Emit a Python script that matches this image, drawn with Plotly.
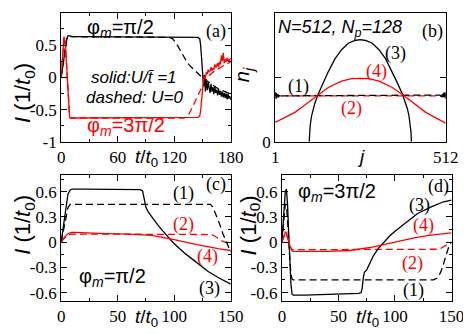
import plotly.graph_objects as go

W, H = 471, 334

# ---------------- Panel (a): I vs t, t in [0,180] ----------------
a_t_black_solid = [0, 2, 4, 6, 7.5, 9, 12, 20, 40, 80, 120, 140, 145, 147, 148, 149, 150, 151, 152, 153,
                   154, 155, 156, 157, 158, 159, 160, 161, 162, 163, 164, 165, 166, 167, 168, 169, 170,
                   171, 172, 173, 174, 175, 176, 177, 178, 179, 180]
a_I_black_solid = [0, 0.2, 0.43, 0.6, 0.65, 0.64, 0.63, 0.63, 0.63, 0.63, 0.63, 0.63, 0.62, 0.6, 0.5, 0.3, 0.05, -0.14, 0.04, -0.22,
                   -0.03, -0.2, -0.08, -0.16, -0.24, -0.1, -0.22, -0.15, -0.26, -0.14, -0.24, -0.19, -0.28, -0.18, -0.27, -0.21, -0.3,
                   -0.22, -0.31, -0.24, -0.32, -0.25, -0.34, -0.26, -0.33, -0.29, -0.35]
a_t_black_dash = [0, 2, 4, 6, 8, 10, 20, 60, 100, 115, 118, 121, 124, 127, 130, 133, 136, 140, 144, 148, 152, 157, 162, 167, 172, 180]
a_I_black_dash = [0, 0.2, 0.43, 0.6, 0.64, 0.63, 0.63, 0.63, 0.63, 0.62, 0.6, 0.55, 0.48, 0.4, 0.32, 0.25, 0.19, 0.13, 0.07, 0.02, -0.03, -0.08, -0.13, -0.18, -0.21, -0.26]
a_t_red_solid = [0, 1.5, 3, 4.5, 6, 7.5, 9, 10, 20, 60, 100, 140, 145, 147, 148, 149, 150, 151, 152, 153, 154, 155,
                 156, 157, 158, 159, 160, 161, 162, 163, 164, 165, 166, 167, 168, 169, 170, 171, 172, 173, 174, 175,
                 176, 177, 178, 179, 180]
a_I_red_solid = [0, 0.35, 0.63, 0.5, 0.1, -0.4, -0.62, -0.63, -0.63, -0.63, -0.63, -0.63, -0.62, -0.6, -0.52, -0.35, -0.15, -0.05, 0.02, -0.02, 0.08, 0.05,
                 0.12, 0.08, 0.1, 0.16, 0.1, 0.14, 0.12, 0.2, 0.15, 0.18, 0.22, 0.16, 0.24, 0.2, 0.34, 0.25, 0.38, 0.22, 0.28, 0.24,
                 0.3, 0.25, 0.28, 0.27, 0.3]
a_t_red_dash = [0, 1.5, 3, 4.5, 6, 7.5, 9, 10, 20, 60, 100, 130, 133, 136, 139, 142, 145, 148, 151, 154, 158, 162, 167, 172, 180]
a_I_red_dash = [0, 0.35, 0.63, 0.5, 0.1, -0.4, -0.62, -0.63, -0.63, -0.63, -0.63, -0.63, -0.61, -0.56, -0.47, -0.38, -0.28, -0.18, -0.1, -0.03, 0.04, 0.09, 0.14, 0.18, 0.24]

# ---------------- Panel (b): n_j vs j ----------------
b_j_3 = [103, 104, 106, 110, 115, 120, 130, 145, 160, 180, 200, 220, 240, 256, 272, 292, 312, 332, 352, 367, 382, 392, 397, 402, 406, 408, 409]
b_n_3 = [0, 0.05, 0.09, 0.14, 0.18, 0.21, 0.26, 0.32, 0.38, 0.45, 0.5, 0.535, 0.55, 0.555, 0.55, 0.535, 0.5, 0.45, 0.38, 0.32, 0.26, 0.21, 0.18, 0.14, 0.09, 0.05, 0]
b_j_4 = [1, 30, 60, 90, 125, 160, 200, 230, 256, 282, 312, 352, 387, 422, 452, 482, 512]
b_n_4 = [0.105, 0.13, 0.16, 0.2, 0.25, 0.295, 0.33, 0.343, 0.345, 0.343, 0.33, 0.295, 0.25, 0.2, 0.16, 0.13, 0.102]
b_j_1 = [1, 2, 3, 4, 5, 6, 7, 8, 9, 10, 11, 12, 14, 16, 18, 20, 60, 120, 256, 390, 450, 493, 495, 497, 499, 500, 502, 503, 504, 505, 506, 507, 508, 509, 510, 511, 512]
b_n_1 = [0.27, 0.235, 0.268, 0.232, 0.265, 0.237, 0.262, 0.24, 0.26, 0.242, 0.257, 0.245, 0.255, 0.246, 0.253, 0.25, 0.25, 0.25, 0.25, 0.25, 0.25, 0.25, 0.254, 0.246, 0.257, 0.242, 0.26, 0.24, 0.263, 0.237, 0.266, 0.234, 0.268, 0.232, 0.27, 0.235, 0.262]
b_j_2 = [1, 512]
b_n_2 = [0.25, 0.25]

# ---------------- Panel (c): phi_m = pi/2 ----------------
c_t_3 = [0, 2, 4, 6, 8, 10, 20, 40, 60, 70, 72, 73, 74, 75, 77, 80, 85, 90, 95, 100, 110, 120, 130, 140, 150]
c_I_3 = [0, 0.2, 0.42, 0.57, 0.62, 0.63, 0.63, 0.63, 0.63, 0.625, 0.61, 0.55, 0.46, 0.41, 0.36, 0.3, 0.21, 0.13, 0.05, -0.02, -0.14, -0.25, -0.35, -0.43, -0.5]
c_t_1 = [0, 2, 4, 6, 8, 10, 40, 80, 120, 132, 134, 137, 140, 143, 146, 150]
c_I_1 = [0, 0.15, 0.3, 0.41, 0.45, 0.45, 0.45, 0.45, 0.45, 0.45, 0.42, 0.33, 0.22, 0.1, 0.0, -0.12]
c_t_2 = [0, 3, 6, 9, 40, 80, 120, 130, 133, 136, 139, 142, 145, 150]
c_I_2 = [0, 0.05, 0.085, 0.095, 0.095, 0.095, 0.095, 0.095, 0.09, 0.07, 0.04, 0.015, 0.0, -0.005]
c_t_4 = [0, 3, 6, 9, 12, 20, 40, 60, 80, 100, 120, 140, 150]
c_I_4 = [0, 0.06, 0.1, 0.115, 0.115, 0.11, 0.1, 0.095, 0.08, 0.03, -0.03, -0.08, -0.1]

# ---------------- Panel (d): phi_m = 3pi/2 ----------------
d_t_3 = [0, 1.5, 3, 4, 5, 6, 7, 8, 9, 10, 20, 50, 68, 70, 71, 72, 73, 75, 78, 81, 85, 89, 95, 100, 110, 120, 132, 143, 150]
d_I_3 = [0, 0.35, 0.6, 0.63, 0.45, 0.1, -0.25, -0.5, -0.62, -0.63, -0.63, -0.62, -0.61, -0.6, -0.55, -0.42, -0.36, -0.33, -0.24, -0.16, -0.08, -0.015, 0.07, 0.13, 0.24, 0.34, 0.42, 0.48, 0.5]
d_t_1 = [0, 1.5, 3, 4, 5, 6, 7, 8, 9, 10, 40, 80, 120, 134, 137, 140, 142, 144, 146, 148, 150]
d_I_1 = [0, 0.25, 0.45, 0.45, 0.3, 0.05, -0.2, -0.38, -0.44, -0.45, -0.45, -0.45, -0.45, -0.45, -0.43, -0.37, -0.3, -0.2, -0.12, -0.04, 0.0]
d_t_2 = [0, 2, 3, 4, 5, 6, 7, 8, 9, 10, 40, 80, 120, 135, 138, 141, 144, 147, 150]
d_I_2 = [0, 0.08, 0.1, 0.1, 0.06, 0.0, -0.05, -0.08, -0.09, -0.09, -0.09, -0.09, -0.09, -0.09, -0.085, -0.07, -0.045, -0.02, 0.0]
d_t_4 = [0, 2, 3, 4, 5, 6, 7, 8, 9, 10, 20, 40, 60, 80, 90, 100, 117, 130, 150]
d_I_4 = [0, 0.09, 0.12, 0.11, 0.07, 0.02, -0.04, -0.08, -0.105, -0.11, -0.11, -0.11, -0.1, -0.06, -0.03, 0.0, 0.05, 0.08, 0.11]

# ---------------- tick labels ----------------
a_xticks = [0, 60, 120, 180]
a_yticks = [-1, -0.5, 0, 0.5, 1]
a_yticktext = ["-1", "-0.5", "0", "0.5", "1"]
b_xticks = [1, 512]
b_yticks = [0, 0.35, 0.7]
b_yticktext = ["0", "", "0.7"]
cd_xticks = [0, 50, 100, 150]
cd_yticks = [-0.6, -0.3, 0, 0.3, 0.6]
cd_yticktext = ["-0.6", "-0.3", "0", "0.3", "0.6"]

BLACK = "#000000"
RED = "#ff0000"
DASH = "7px,4px"
LW = 1.3
SERIF = "Liberation Serif"
SANS = "Liberation Sans"

fig = go.Figure()


def add(x, y, color, dash, xa, ya, width=LW):
    fig.add_trace(go.Scatter(x=x, y=y, mode="lines", xaxis=xa, yaxis=ya,
                             line=dict(color=color, width=width, dash=dash),
                             showlegend=False, hoverinfo="skip"))


# panel a
add(a_t_black_dash, a_I_black_dash, BLACK, DASH, "x", "y")
add(a_t_red_dash, a_I_red_dash, RED, DASH, "x", "y")
add(a_t_black_solid, a_I_black_solid, BLACK, "solid", "x", "y")
add(a_t_red_solid, a_I_red_solid, RED, "solid", "x", "y")
# panel b
add(b_j_2, b_n_2, RED, DASH, "x2", "y2")
add(b_j_1, b_n_1, BLACK, DASH, "x2", "y2")
add(b_j_3, b_n_3, BLACK, "solid", "x2", "y2")
add(b_j_4, b_n_4, RED, "solid", "x2", "y2")
# panel c
add(c_t_1, c_I_1, BLACK, DASH, "x3", "y3")
add(c_t_2, c_I_2, RED, DASH, "x3", "y3")
add(c_t_3, c_I_3, BLACK, "solid", "x3", "y3")
add(c_t_4, c_I_4, RED, "solid", "x3", "y3")
# panel d
add(d_t_1, d_I_1, BLACK, DASH, "x4", "y4")
add(d_t_2, d_I_2, RED, DASH, "x4", "y4")
add(d_t_3, d_I_3, BLACK, "solid", "x4", "y4")
add(d_t_4, d_I_4, RED, "solid", "x4", "y4")


def px(x0, x1):
    return [x0 / W, x1 / W]


def py(top, bottom):
    return [1 - bottom / H, 1 - top / H]


tickfont = dict(family=SERIF, size=17, color="black")


def axis(domain, rng, tickvals, ticktext, minor_dtick, anchor):
    d = dict(domain=domain, range=rng, tickvals=tickvals, ticktext=ticktext,
             ticks="inside", ticklen=6, tickwidth=1, tickcolor="black",
             showline=True, linecolor="black", linewidth=1, mirror="allticks",
             showgrid=False, zeroline=False, tickfont=tickfont, anchor=anchor)
    if minor_dtick:
        d["minor"] = dict(ticks="inside", ticklen=3, tickcolor="black", dtick=minor_dtick, tick0=0, showgrid=False)
    return d


fig.update_layout(
    width=W, height=334, autosize=False,
    margin=dict(l=0, r=0, t=0, b=0),
    paper_bgcolor="white", plot_bgcolor="white",
    xaxis=axis(px(51, 227), [0, 180], a_xticks, [str(v) for v in a_xticks], 30, "y"),
    yaxis=axis(py(5, 138), [-1, 1], a_yticks, a_yticktext, 0.25, "x"),
    xaxis2=axis(px(273, 450), [1, 512], b_xticks, [str(v) for v in b_xticks], None, "y2"),
    yaxis2=axis(py(5, 138), [0, 0.7], b_yticks, b_yticktext, None, "x2"),
    xaxis3=axis(px(51, 227), [0, 150], cd_xticks, [str(v) for v in cd_xticks], 25, "y3"),
    yaxis3=axis(py(172, 302), [-0.7, 0.8], cd_yticks, cd_yticktext, 0.15, "x3"),
    xaxis4=axis(px(280, 456), [0, 150], cd_xticks, [str(v) for v in cd_xticks], 25, "y4"),
    yaxis4=axis(py(172, 302), [-0.7, 0.8], cd_yticks, cd_yticktext, 0.15, "x4"),
)


def note(x, y, text, color=BLACK, size=18, family=SERIF, angle=0):
    fig.add_annotation(x=x / W, y=1 - y / H, xref="paper", yref="paper", text=text,
                       showarrow=False, textangle=angle, xanchor="center", yanchor="middle",
                       font=dict(family=family, size=size, color=color))


# axis titles
ytitle = "<i>I</i> (1/<i>t</i><sub>0</sub>)"
ttitle = "<i>t</i>/<i>t</i><sub>0</sub>"
note(13, 88, ytitle, size=22, family=SANS, angle=-90)
note(13, 224, ytitle, size=22, family=SANS, angle=-90)
note(247, 224, ytitle, size=22, family=SANS, angle=-90)
note(140, 155, ttitle, size=19, family=SANS)
note(140, 320, ttitle, size=19, family=SANS)
note(369, 320, ttitle, size=19, family=SANS)
note(241, 69, "<i>n<sub>j</sub></i>", size=20, family=SANS, angle=-90)
note(362, 153, "<i>j</i>", size=19, family=SANS)

# panel a texts
note(113, 21, "φ<sub><i>m</i></sub>=π/2", size=20, family=SANS)
note(212, 24, "(a)")
note(127, 72, "<i>solid:U/t\u0304 =1</i>", size=17, family=SANS)
note(127, 92, "<i>dashed: U=0</i>", size=17, family=SANS)
note(118, 122, "φ<sub><i>m</i></sub>=3π/2", color=RED, size=20, family=SANS)

# panel b texts
note(340, 21, "<i>N=512, N<sub>p</sub>=128</i>", size=18, family=SANS)
note(436, 24, "(b)")
note(398, 47, "(3)")
note(378, 65, "(4)", color=RED)
note(297, 81, "(1)")
note(352, 104, "(2)", color=RED)

# panel c texts
note(212, 182, "(c)")
note(178, 191, "(1)")
note(178, 223, "(2)", color=RED)
note(203, 256, "(4)", color=RED)
note(205, 289, "(3)")
note(104, 278, "φ<sub><i>m</i></sub>=π/2", size=20, family=SANS)

# panel d texts
note(442, 184, "(d)")
note(423, 204, "(3)")
note(427, 224, "(4)", color=RED)
note(415, 263, "(2)", color=RED)
note(417, 291, "(1)")
note(337, 190, "φ<sub><i>m</i></sub>=3π/2", size=20, family=SANS)

fig.write_html("out.html")
